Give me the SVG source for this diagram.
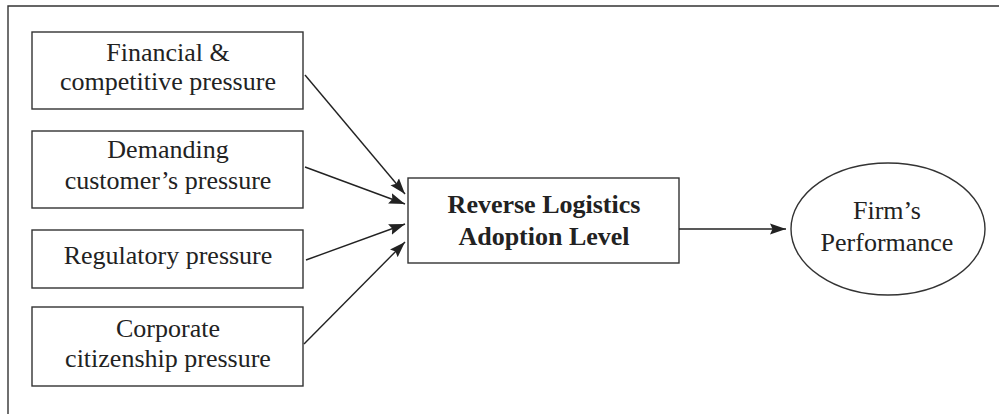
<svg xmlns="http://www.w3.org/2000/svg" width="999" height="414" viewBox="0 0 999 414">
<style>
.box{fill:#fff;stroke:#333;stroke-width:1.4}
.t{font-family:"Liberation Serif","Times New Roman",serif;font-size:26px;fill:#222;text-anchor:middle}
.b{font-weight:bold}
.c{stroke:#222;stroke-width:1.4;fill:none;marker-end:url(#ah)}
</style>
<defs>
<marker id="ah" markerUnits="userSpaceOnUse" markerWidth="18" markerHeight="12" refX="16" refY="6" orient="auto">
<path d="M0,0.5 L16,6 L0,11.5 L2.5,6 Z" fill="#222"/>
</marker>
</defs>
<rect width="999" height="414" fill="#fff"/>
<path d="M8,414 V6 H999" fill="none" stroke="#333" stroke-width="1.4"/>
<g id="n1"><rect class="box" x="32" y="32" width="271" height="77"/><text class="t" x="168" y="61">Financial &amp;</text><text class="t" x="168" y="90">competitive pressure</text></g>
<g id="n2"><rect class="box" x="32" y="131" width="271" height="77"/><text class="t" x="168" y="158">Demanding</text><text class="t" x="168" y="189">customer’s pressure</text></g>
<g id="n3"><rect class="box" x="32" y="230" width="271" height="58"/><text class="t" x="168" y="264">Regulatory pressure</text></g>
<g id="n4"><rect class="box" x="32" y="307" width="271" height="79"/><text class="t" x="168" y="337">Corporate</text><text class="t" x="168" y="367">citizenship pressure</text></g>
<g id="center"><rect class="box" x="408" y="178" width="271" height="85"/><text class="t b" x="544" y="213">Reverse Logistics</text><text class="t b" x="544" y="245">Adoption Level</text></g>
<g id="perf"><ellipse class="box" cx="888" cy="229" rx="97" ry="66"/><text class="t" x="887" y="219">Firm’s</text><text class="t" x="887" y="251">Performance</text></g>
<g id="connectors">
<path class="c" d="M305,75 L405,194"/>
<path class="c" d="M305,167 L405,204"/>
<path class="c" d="M306,260 L405,224"/>
<path class="c" d="M304,344 L405,242"/>
<path class="c" d="M679,229 L786,229"/>
</g>
</svg>
